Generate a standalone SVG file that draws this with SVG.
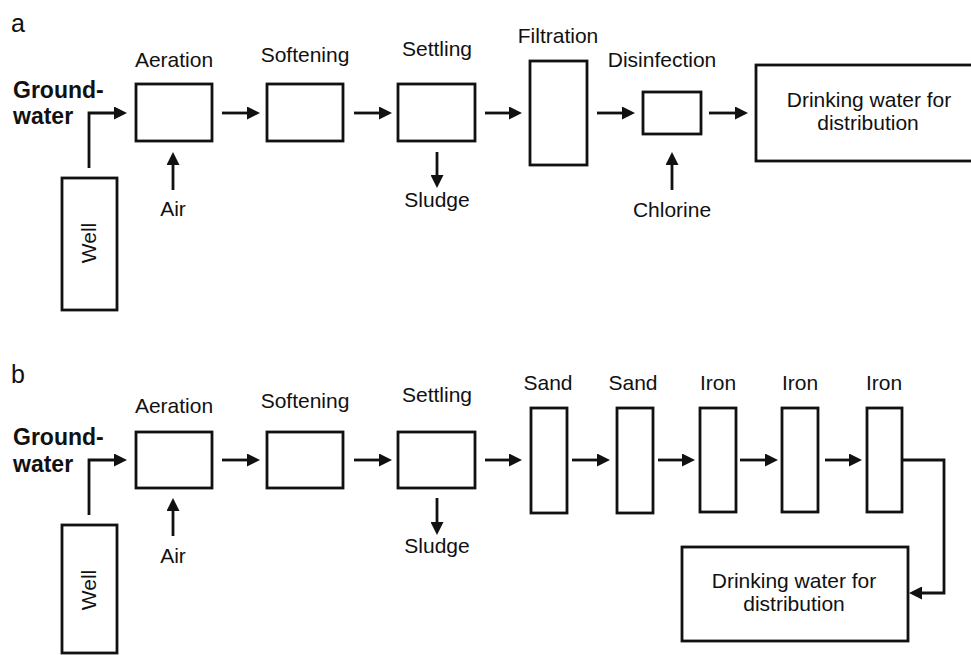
<svg xmlns="http://www.w3.org/2000/svg" width="971" height="655" viewBox="0 0 971 655">
<defs>
<marker id="ah" viewBox="0 0 13 13" refX="5" refY="6.5" markerWidth="13" markerHeight="13" markerUnits="userSpaceOnUse" orient="auto">
<path d="M0,0 L13,6.5 L0,13 z" fill="#111"/>
</marker>
<style>
rect{fill:#fff;stroke:#111;stroke-width:2.8}
text{font-family:"Liberation Sans",Arial,sans-serif;font-size:21px;fill:#111}
.c{text-anchor:middle}
.b{font-weight:bold;font-size:23px}
.p{font-size:25px}
#connectors path{fill:none;stroke:#111;stroke-width:2.8;marker-end:url(#ah)}
</style>
</defs>
<rect x="0" y="0" width="971" height="655" style="fill:#fff;stroke:none"/>
<text class="p" x="11" y="32">a</text>
<text class="p" x="11" y="383">b</text>

<!-- Panel a -->
<g id="a-groundwater"><text class="b" x="13" y="98">Ground-</text><text class="b" x="13" y="124">water</text></g>
<g id="a-well"><rect x="62" y="178" width="55" height="132"/><text class="c" transform="translate(96,243) rotate(-90)">Well</text></g>
<g id="a-aeration"><rect x="136" y="84" width="76" height="57"/><text class="c" x="174" y="67">Aeration</text></g>
<g id="a-air"><text class="c" x="173" y="216">Air</text></g>
<g id="a-softening"><rect x="267" y="84" width="76" height="57"/><text class="c" x="305" y="62">Softening</text></g>
<g id="a-settling"><rect x="398" y="84" width="77" height="57"/><text class="c" x="437" y="56">Settling</text></g>
<g id="a-sludge"><text class="c" x="437" y="207">Sludge</text></g>
<g id="a-filtration"><rect x="530" y="61" width="57" height="104"/><text class="c" x="558" y="43">Filtration</text></g>
<g id="a-disinfection"><rect x="643" y="92" width="58" height="42"/><text class="c" x="662" y="67">Disinfection</text></g>
<g id="a-chlorine"><text class="c" x="672" y="217">Chlorine</text></g>
<g id="a-drinking"><rect x="756" y="65" width="240" height="96"/><text class="c" x="869" y="107">Drinking water for</text><text class="c" x="868" y="130">distribution</text></g>

<!-- Panel b -->
<g id="b-groundwater"><text class="b" x="13" y="445">Ground-</text><text class="b" x="13" y="472">water</text></g>
<g id="b-well"><rect x="62" y="525" width="55" height="128"/><text class="c" transform="translate(96,590) rotate(-90)">Well</text></g>
<g id="b-aeration"><rect x="136" y="432" width="76" height="56"/><text class="c" x="174" y="413">Aeration</text></g>
<g id="b-air"><text class="c" x="173" y="563">Air</text></g>
<g id="b-softening"><rect x="267" y="432" width="76" height="56"/><text class="c" x="305" y="408">Softening</text></g>
<g id="b-settling"><rect x="398" y="432" width="77" height="56"/><text class="c" x="437" y="402">Settling</text></g>
<g id="b-sludge"><text class="c" x="437" y="553">Sludge</text></g>
<g id="b-sand1"><rect x="531" y="408" width="36" height="105"/><text class="c" x="548" y="390">Sand</text></g>
<g id="b-sand2"><rect x="617" y="408" width="36" height="105"/><text class="c" x="633" y="390">Sand</text></g>
<g id="b-iron1"><rect x="700" y="408" width="36" height="104"/><text class="c" x="718" y="390">Iron</text></g>
<g id="b-iron2"><rect x="782" y="408" width="36" height="104"/><text class="c" x="800" y="390">Iron</text></g>
<g id="b-iron3"><rect x="867" y="408" width="35" height="104"/><text class="c" x="884" y="390">Iron</text></g>
<g id="b-drinking"><rect x="682" y="547" width="226" height="94"/><text class="c" x="794" y="588">Drinking water for</text><text class="c" x="794" y="611">distribution</text></g>

<g id="connectors">
<path d="M89,168 V113 H119"/>
<path d="M173,190 V160"/>
<path d="M222,113 H252"/>
<path d="M354,113 H384"/>
<path d="M437,152 V180"/>
<path d="M485,113 H514"/>
<path d="M597,113 H627"/>
<path d="M672,190 V160"/>
<path d="M709,113 H740"/>

<path d="M89,515 V460 H119"/>
<path d="M173,536 V506"/>
<path d="M222,460 H252"/>
<path d="M354,460 H384"/>
<path d="M437,498 V527"/>
<path d="M485,460 H514"/>
<path d="M572,460 H602"/>
<path d="M658,460 H687"/>
<path d="M740,460 H770"/>
<path d="M825,460 H854"/>
<path d="M902,460 H944 V593 H917"/>
</g>
</svg>
